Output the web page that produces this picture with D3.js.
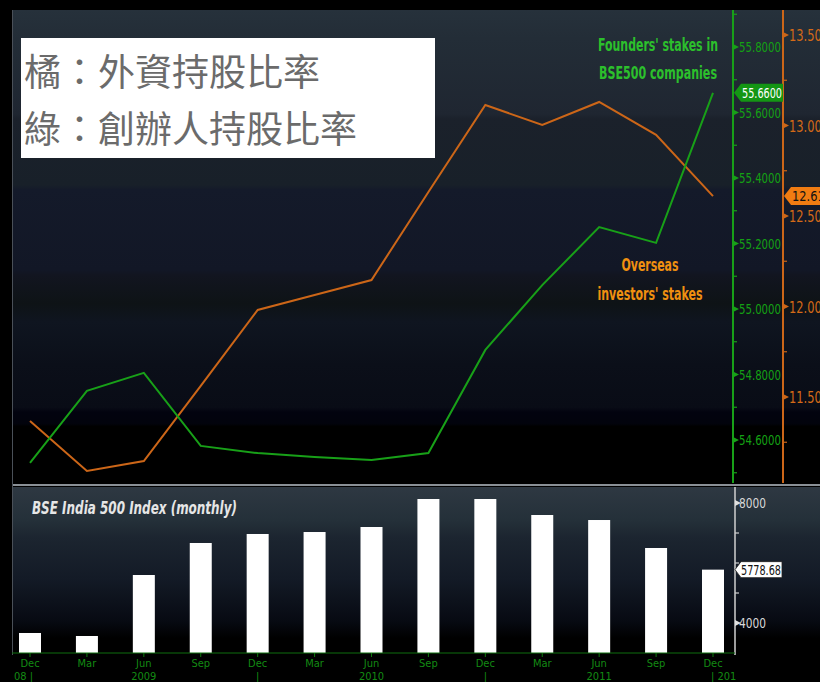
<!DOCTYPE html>
<html><head><meta charset="utf-8">
<script src="https://cdn.jsdelivr.net/npm/d3@7"></script>
<style>
body{margin:0;background:#000;overflow:hidden}
svg{display:block}
</style></head>
<body>
<svg id="c" width="820" height="682"></svg>
<script>
// ---- data ----
const quarters = ["Dec 2008","Mar 2009","Jun 2009","Sep 2009","Dec 2009","Mar 2010","Jun 2010","Sep 2010","Dec 2010","Mar 2011","Jun 2011","Sep 2011","Dec 2011"];
const monthLabels = ["Dec","Mar","Jun","Sep","Dec","Mar","Jun","Sep","Dec","Mar","Jun","Sep","Dec"];
const yearLabels = ["08 |","","2009","","|","","2010","","|","","2011","","| 201"];
const founders = [54.53,54.75,54.805,54.582,54.56,54.548,54.539,54.56,54.875,55.073,55.25,55.202,55.66];
const overseas = [11.367,11.091,11.146,11.561,11.981,12.064,12.146,12.633,13.113,13.003,13.13,12.948,12.61];
const bse500 = [3667,3567,5600,6667,6967,7033,7200,8133,8133,7600,7433,6500,5778.68];
const foundersTicks = [54.6,54.8,55.0,55.2,55.4,55.6,55.8];
const overseasTicks = [11.5,12.0,12.5,13.0,13.5];
const bseTicks = [4000,8000];
const legendLines = ["橘：外資持股比率","綠：創辦人持股比率"];
const foundersNote = ["Founders' stakes in","BSE500 companies"];
const overseasNote = ["Overseas","investors' stakes"];
const panelTitle = "BSE India 500 Index (monthly)";

// ---- chart ----
const svg = d3.select("#c");
const W = 820, H = 682;
const narrow = "'Liberation Sans Narrow','DejaVu Sans Condensed','Roboto',sans-serif";
const defs = svg.append("defs");

const g1 = defs.append("linearGradient").attr("id","bgTop").attr("x1",0).attr("y1",0).attr("x2",0).attr("y2",1);
[[0,"#26313b"],[0.06,"#232d37"],[0.22,"#1f2631"],[0.23,"#1b212b"],[0.37,"#182029"],[0.38,"#141a2a"],[0.55,"#121726"],[0.56,"#121520"],[0.62,"#0e1316"],[0.66,"#0f1520"],[0.75,"#0b0f19"],[0.84,"#090c16"],[0.85,"#02030f"],[0.875,"#02030c"],[0.88,"#000"],[1,"#000"]]
  .forEach(s=>g1.append("stop").attr("offset",s[0]).attr("stop-color",s[1]));
const g2 = defs.append("linearGradient").attr("id","bgBot").attr("x1",0).attr("y1",0).attr("x2",0).attr("y2",1);
[[0,"#2e3842"],[0.2,"#243039"],[0.3,"#1c2530"],[0.55,"#131a26"],[0.8,"#070a12"],[0.9,"#000"],[1,"#000"]]
  .forEach(s=>g2.append("stop").attr("offset",s[0]).attr("stop-color",s[1]));

svg.append("rect").attr("width",W).attr("height",H).attr("fill","#000");
const topY0 = 10, topY1 = 483, botY0 = 487, botY1 = 655;
svg.append("rect").attr("x",12).attr("y",topY0).attr("width",W-12).attr("height",topY1-topY0).attr("fill","url(#bgTop)");
svg.append("rect").attr("x",12).attr("y",botY0).attr("width",W-12).attr("height",botY1-botY0).attr("fill","url(#bgBot)");
svg.append("line").attr("x1",12).attr("x2",W).attr("y1",485).attr("y2",485).attr("stroke","#8a9096").attr("stroke-width",2);
svg.append("line").attr("x1",12.5).attr("x2",12.5).attr("y1",topY0).attr("y2",botY1).attr("stroke","#4a5058").attr("stroke-width",1);

// scales
const x = d3.scalePoint().domain(quarters).range([30,713]);
const yF = d3.scaleLinear().domain([54.6,55.8]).range([440,47]);
const yO = d3.scaleLinear().domain([11.5,13.5]).range([397,35]);
const yB = d3.scaleLinear().domain([4000,8000]).range([623,503]);

const green = "#18a018", orange = "#cc6618";

// legend box
svg.append("rect").attr("x",21).attr("y",38).attr("width",414).attr("height",120).attr("fill","#fff");
svg.selectAll("text.leg").data(legendLines).join("text").attr("class","leg")
  .attr("x",24).attr("y",(d,i)=>86+i*57)
  .attr("font-family","'Noto Sans CJK TC','Noto Sans CJK SC',sans-serif")
  .attr("font-size",37).attr("fill","#6b6b6b").text(d=>d);

// axes lines
svg.append("line").attr("x1",733).attr("x2",733).attr("y1",topY0).attr("y2",topY1).attr("stroke",green).attr("stroke-width",2);
svg.append("line").attr("x1",783).attr("x2",783).attr("y1",topY0).attr("y2",topY1).attr("stroke",orange).attr("stroke-width",2);
svg.append("line").attr("x1",735).attr("x2",735).attr("y1",botY0).attr("y2",botY1).attr("stroke","#d0d0d0").attr("stroke-width",1.5);

// green axis
const gF = svg.append("g");
const minorF = d3.range(54.5,55.95,0.1).filter(v=>yF(v)>topY0+2 && yF(v)<topY1-2);
gF.selectAll("line.mn").data(minorF).join("line").attr("x1",733).attr("x2",737)
  .attr("y1",d=>yF(d)).attr("y2",d=>yF(d)).attr("stroke",green).attr("stroke-width",1.2);
gF.selectAll("path.tk").data(foundersTicks).join("path")
  .attr("d",d=>`M733,${yF(d)-3}L739,${yF(d)}L733,${yF(d)+3}Z`).attr("fill",green);
gF.selectAll("text").data(foundersTicks).join("text")
  .attr("x",739).attr("y",d=>yF(d)+5).attr("font-family",narrow).attr("font-size",14)
  .attr("fill","#14a014").attr("textLength",42).attr("lengthAdjust","spacingAndGlyphs")
  .text(d=>d3.format(".4f")(d));

// orange axis
const gO = svg.append("g");
const minorO = d3.range(11.25,13.6,0.25).filter(v=>yO(v)>topY0+2 && yO(v)<topY1-2);
gO.selectAll("line.mn").data(minorO).join("line").attr("x1",783).attr("x2",787)
  .attr("y1",d=>yO(d)).attr("y2",d=>yO(d)).attr("stroke",orange).attr("stroke-width",1.2);
gO.selectAll("path.tk").data(overseasTicks).join("path")
  .attr("d",d=>`M783,${yO(d)-3}L789,${yO(d)}L783,${yO(d)+3}Z`).attr("fill",orange);
gO.selectAll("text").data(overseasTicks).join("text")
  .attr("x",789).attr("y",d=>yO(d)+6).attr("font-family",narrow).attr("font-size",15)
  .attr("fill","#d46a18").attr("textLength",40).attr("lengthAdjust","spacingAndGlyphs")
  .text(d=>d3.format(".3f")(d));

// lines
const lineF = d3.line().x((d,i)=>x(quarters[i])).y(d=>yF(d));
const lineO = d3.line().x((d,i)=>x(quarters[i])).y(d=>yO(d));
svg.append("path").datum(overseas).attr("d",lineO).attr("fill","none").attr("stroke",orange).attr("stroke-width",2);
svg.append("path").datum(founders).attr("d",lineF).attr("fill","none").attr("stroke",green).attr("stroke-width",2);

// annotations
svg.selectAll("text.fn").data(foundersNote).join("text").attr("class","fn")
  .attr("x",658).attr("y",(d,i)=>51+i*28).attr("text-anchor","middle")
  .attr("font-family",narrow).attr("font-weight","bold").attr("font-size",18)
  .attr("fill","#2cc02c").attr("textLength",(d,i)=>i?118:120).attr("lengthAdjust","spacingAndGlyphs").text(d=>d);
svg.selectAll("text.on").data(overseasNote).join("text").attr("class","on")
  .attr("x",650).attr("y",(d,i)=>271+i*29).attr("text-anchor","middle")
  .attr("font-family",narrow).attr("font-weight","bold").attr("font-size",18)
  .attr("fill","#f09010").attr("textLength",(d,i)=>i?105:57).attr("lengthAdjust","spacingAndGlyphs").text(d=>d);

// last-value labels
const lf = founders[founders.length-1], yl = yF(lf);
svg.append("path").attr("d",`M734,${yl}L741,${yl-9}H783V${yl+9}H741Z`).attr("fill","#149614");
svg.append("text").attr("x",742).attr("y",yl+5).attr("font-family",narrow).attr("font-size",14)
  .attr("fill","#fff").attr("textLength",40).attr("lengthAdjust","spacingAndGlyphs").text(d3.format(".4f")(lf));
const lo = overseas[overseas.length-1], yo = yO(lo);
svg.append("path").attr("d",`M784,${yo}L791,${yo-9}H822V${yo+9}H791Z`).attr("fill","#f07c12");
svg.append("text").attr("x",792).attr("y",yo+5).attr("font-family",narrow).attr("font-size",14)
  .attr("fill","#111").attr("textLength",40).attr("lengthAdjust","spacingAndGlyphs").text(d3.format(".3f")(lo));

// bottom panel
svg.append("text").attr("x",32).attr("y",514).attr("font-family",narrow).attr("font-style","italic")
  .attr("font-weight","bold").attr("font-size",18).attr("fill","#e6e6e6")
  .attr("textLength",205).attr("lengthAdjust","spacingAndGlyphs").text(panelTitle);

const bw = 22;
svg.selectAll("rect.bar").data(bse500).join("rect").attr("class","bar")
  .attr("x",(d,i)=>x(quarters[i])-bw/2).attr("width",bw)
  .attr("y",d=>yB(d)).attr("height",d=>653-yB(d)).attr("fill","#fff");

const gB = svg.append("g");
gB.selectAll("line.mn").data([5000,6000,7000]).join("line").attr("x1",735).attr("x2",739)
  .attr("y1",d=>yB(d)).attr("y2",d=>yB(d)).attr("stroke","#d0d0d0").attr("stroke-width",1.2);
gB.selectAll("path.tk").data(bseTicks).join("path")
  .attr("d",d=>`M735,${yB(d)-3}L741,${yB(d)}L735,${yB(d)+3}Z`).attr("fill","#e0e0e0");
gB.selectAll("text").data(bseTicks).join("text")
  .attr("x",739).attr("y",d=>yB(d)+5).attr("font-family",narrow).attr("font-size",14)
  .attr("fill","#d8d8d8").attr("textLength",27).attr("lengthAdjust","spacingAndGlyphs").text(d=>d);
const lb = bse500[bse500.length-1], yb = yB(lb);
svg.append("path").attr("d",`M735,${yb}L741,${yb-8}H782V${yb+8}H741Z`).attr("fill","#fff").attr("stroke","#222").attr("stroke-width",0.8);
svg.append("text").attr("x",741).attr("y",yb+5).attr("font-family",narrow).attr("font-size",14)
  .attr("fill","#111").attr("textLength",40).attr("lengthAdjust","spacingAndGlyphs").text(d3.format(".2f")(lb));

// x axis
svg.append("line").attr("x1",12).attr("x2",735).attr("y1",653).attr("y2",653).attr("stroke","#0e6e0e").attr("stroke-width",1);
svg.selectAll("line.xt").data(quarters).join("line").attr("class","xt")
  .attr("x1",d=>x(d)).attr("x2",d=>x(d)).attr("y1",653).attr("y2",657).attr("stroke","#0e7a0e");
svg.selectAll("text.xm").data(monthLabels).join("text").attr("class","xm")
  .attr("x",(d,i)=>x(quarters[i])).attr("y",667).attr("text-anchor","middle")
  .attr("font-family",narrow).attr("font-size",11).attr("fill","#138a13").text(d=>d);
svg.selectAll("text.xy").data(yearLabels).join("text").attr("class","xy")
  .attr("x",(d,i)=>i===0?14:x(quarters[i])).attr("y",680).attr("text-anchor",(d,i)=>i===0?"start":(i===12?"start":"middle"))
  .attr("dx",(d,i)=>i===12?-2:0)
  .attr("font-family",narrow).attr("font-size",11).attr("fill","#138a13").text(d=>d);
</script>
</body></html>
